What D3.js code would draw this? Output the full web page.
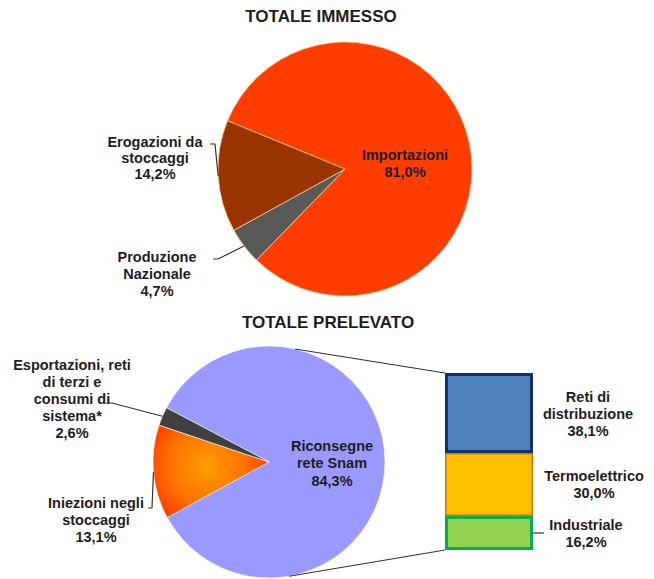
<!DOCTYPE html>
<html>
<head>
<meta charset="utf-8">
<script src="https://cdn.jsdelivr.net/npm/d3@7"></script>
<style>
  body { margin: 0; background: #fff; }
  text { font-family: "Liberation Sans", Arial, sans-serif; font-weight: bold; fill: #1e1e1e; }
</style>
</head>
<body>
<script>
// values (%)
var immessoNames = ["Importazioni", "Produzione Nazionale", "Erogazioni da stoccaggi"];
var immessoValues = [81.0, 4.7, 14.2];
var immessoColors = ["#ff3d00", "#595959", "#993300"];

var prelevatoNames = ["Riconsegne rete Snam", "Iniezioni negli stoccaggi", "Esportazioni, reti di terzi e consumi di sistema*"];
var prelevatoValues = [84.3, 13.1, 2.6];

var snamNames = ["Industriale", "Termoelettrico", "Reti di distribuzione"];
var snamValues = [16.2, 30.0, 38.1];
var snamFill = ["#92d050", "#ffc000", "#4f81bd"];
var snamStroke = ["#00b050", "#e46c0a", "#10306e"];

var W = 654, H = 579;
var svg = d3.select("body").append("svg").attr("width", W).attr("height", H);

// gradient coords are in the pie group's space (centre = 0,0)
var defs = svg.append("defs");
var grad = defs.append("radialGradient").attr("id", "inj")
    .attr("gradientUnits", "userSpaceOnUse")
    .attr("cx", -62).attr("cy", 4).attr("r", 75);
grad.append("stop").attr("offset", "0%").attr("stop-color", "#ff9c00");
grad.append("stop").attr("offset", "50%").attr("stop-color", "#ff7400");
grad.append("stop").attr("offset", "100%").attr("stop-color", "#ff2200");

function deg(a) { return a * Math.PI / 180; }
function pt(cx, cy, r, a) { return [cx + r * Math.sin(a), cy - r * Math.cos(a)]; }

function lines(x, ys, strs) {
  var t = svg.append("text").attr("text-anchor", "middle").style("font-size", "14.5px");
  strs.forEach(function(s, i) {
    t.append("tspan").attr("x", x).attr("y", ys[i]).attr("dy", "0.35em").text(s);
  });
}

var line = d3.line();

// ---------- TOTALE IMMESSO ----------
var c1 = [345, 169], r1 = 127;
svg.append("text").attr("x", 321).attr("y", 16).attr("dy", "0.35em")
  .attr("text-anchor", "middle").style("font-size", "17px").text("TOTALE IMMESSO");

var pie1 = d3.pie().sort(null).startAngle(deg(-67.7)).endAngle(deg(-67.7) + 2 * Math.PI);
var arcs1 = pie1(immessoValues);
var arc1 = d3.arc().innerRadius(0).outerRadius(r1);
var g1 = svg.append("g").attr("transform", "translate(" + c1 + ")");
g1.selectAll("path").data(arcs1).enter().append("path")
  .attr("d", arc1)
  .attr("fill", function(d, i) { return immessoColors[i]; })
  .attr("stroke", "#ffc98a").attr("stroke-width", 0.8);

lines(405, [155, 172], ["Importazioni", "81,0%"]);
lines(155, [142, 158, 174], ["Erogazioni da", "stoccaggi", "14,2%"]);
lines(157, [257, 274, 291], ["Produzione", "Nazionale", "4,7%"]);

function mid(d) { return (d.startAngle + d.endAngle) / 2; }
var e1 = pt(c1[0], c1[1], r1, mid(arcs1[2]));
svg.append("path").attr("d", line([[210, 144], [215, 144], e1]))
  .attr("fill", "none").attr("stroke", "#333").attr("stroke-width", 1.2);
var e2 = pt(c1[0], c1[1], r1, mid(arcs1[1]));
svg.append("path").attr("d", line([[213, 259], [218, 259], e2]))
  .attr("fill", "none").attr("stroke", "#333").attr("stroke-width", 1.2);

// ---------- TOTALE PRELEVATO ----------
var c2 = [269, 462], r2 = 116;
svg.append("text").attr("x", 328).attr("y", 322).attr("dy", "0.35em")
  .attr("text-anchor", "middle").style("font-size", "17px").text("TOTALE PRELEVATO");

var pie2 = d3.pie().sort(null).startAngle(deg(-62.1)).endAngle(deg(-62.1) + 2 * Math.PI);
var arcs2 = pie2(prelevatoValues);
var arc2 = d3.arc().innerRadius(0).outerRadius(r2);
var fills2 = ["#9999ff", "url(#inj)", "#404040"];
var g2 = svg.append("g").attr("transform", "translate(" + c2 + ")");
g2.selectAll("path").data(arcs2).enter().append("path")
  .attr("d", arc2)
  .attr("fill", function(d, i) { return fills2[i]; })
  .attr("stroke", "#ffffff").attr("stroke-width", 0.6);

lines(332, [446, 463, 481], ["Riconsegne", "rete Snam", "84,3%"]);
lines(72, [365, 382, 399, 416, 433], ["Esportazioni, reti", "di terzi e", "consumi di", "sistema*", "2,6%"]);
lines(96, [503, 520, 537], ["Iniezioni negli", "stoccaggi", "13,1%"]);

var e3 = pt(c2[0], c2[1], r2, mid(arcs2[2]));
svg.append("path").attr("d", line([[106, 403], [112, 403], e3]))
  .attr("fill", "none").attr("stroke", "#333").attr("stroke-width", 1.2);
var e4 = pt(c2[0], c2[1], r2, mid(arcs2[1]));
svg.append("path").attr("d", line([[148, 508], [152, 508], e4]))
  .attr("fill", "none").attr("stroke", "#333").attr("stroke-width", 1.2);

// ---------- breakdown bar ----------
var y = d3.scaleLinear().domain([0, d3.sum(snamValues)]).range([550, 373]);
var x0 = 445, x1 = 533;
var stacked = d3.stack().keys(snamNames)([Object.fromEntries(snamNames.map(function(n, i) { return [n, snamValues[i]]; }))]);

// connectors from the Snam slice to the bar
var pTop = pt(c2[0], c2[1], r2, deg(13));
var pBot = pt(c2[0], c2[1], r2, deg(170));
svg.append("line").attr("x1", pTop[0]).attr("y1", pTop[1]).attr("x2", x0).attr("y2", y(d3.sum(snamValues)))
  .attr("stroke", "#333").attr("stroke-width", 1.2);
svg.append("line").attr("x1", pBot[0]).attr("y1", pBot[1]).attr("x2", x0).attr("y2", y(0))
  .attr("stroke", "#333").attr("stroke-width", 1.2);

var drawOrder = [1, 0, 2];
var sw = [3, 1.5, 3];
drawOrder.forEach(function(i) {
  var s = stacked[i][0];
  svg.append("rect")
    .attr("x", x0 + sw[i] / 2).attr("y", y(s[1]) + sw[i] / 2)
    .attr("width", x1 - x0 - sw[i]).attr("height", y(s[0]) - y(s[1]) - sw[i])
    .attr("fill", snamFill[i]).attr("stroke", snamStroke[i]).attr("stroke-width", sw[i]);
});

lines(588, [397, 414, 431], ["Reti di", "distribuzione", "38,1%"]);
lines(594, [476, 493], ["Termoelettrico", "30,0%"]);
lines(586, [525, 542], ["Industriale", "16,2%"]);
svg.append("line").attr("x1", x1).attr("y1", 533).attr("x2", 544).attr("y2", 533)
  .attr("stroke", "#333").attr("stroke-width", 1.2);
</script>
</body>
</html>
